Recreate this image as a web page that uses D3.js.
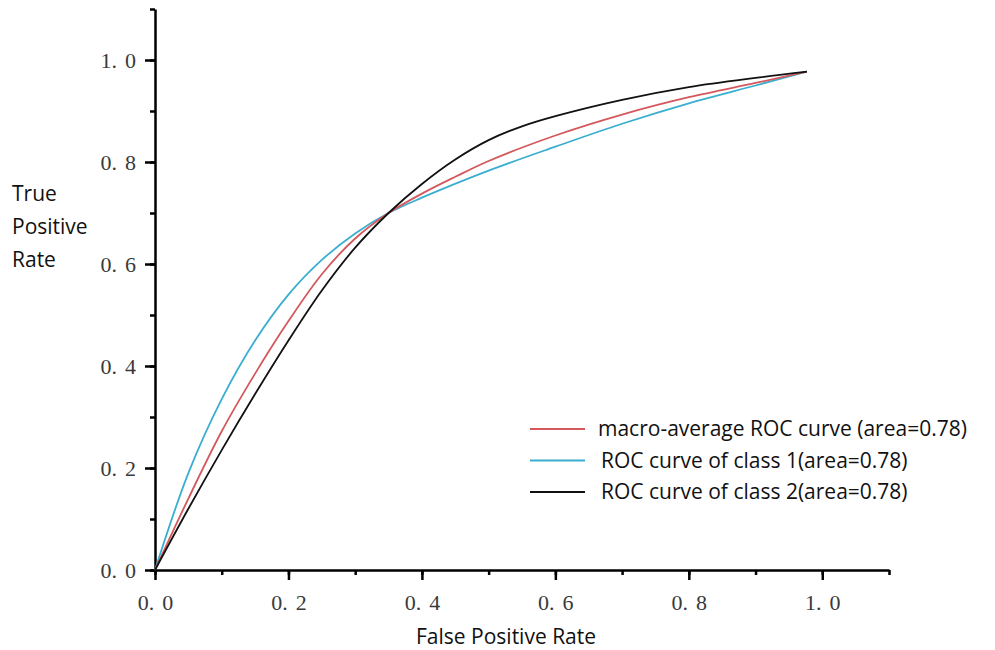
<!DOCTYPE html>
<html>
<head>
<meta charset="utf-8">
<script src="https://cdn.jsdelivr.net/npm/d3@7/dist/d3.min.js"></script>
<style>
  body { margin: 0; background: #fff; }
  svg { display: block; }
  .tick-lab { font-family: "Liberation Serif", "DejaVu Serif", serif; font-size: 22px; fill: #3a3a3a; }
  .title { font-family: "Open Sans", "Noto Sans", sans-serif; font-size: 21px; fill: #111; }
</style>
</head>
<body>
<div id="chart"></div>
<script>
// ROC curve points: [false positive rate, true positive rate]
var macroAvg = [
  [0, 0], [0.05, 0.14], [0.1, 0.272], [0.15, 0.385], [0.2, 0.488], [0.25, 0.58],
  [0.3, 0.65], [0.35, 0.7], [0.4, 0.738], [0.45, 0.771], [0.5, 0.802], [0.6, 0.852],
  [0.7, 0.893], [0.8, 0.927], [0.9, 0.955], [0.977, 0.977]
];
var class1 = [
  [0, 0], [0.05, 0.19], [0.1, 0.335], [0.15, 0.45], [0.2, 0.54], [0.25, 0.608],
  [0.3, 0.66], [0.35, 0.7], [0.4, 0.73], [0.5, 0.783], [0.6, 0.83],
  [0.7, 0.875], [0.8, 0.915], [0.9, 0.95], [0.977, 0.977]
];
var class2 = [
  [0, 0], [0.05, 0.12], [0.1, 0.235], [0.15, 0.345], [0.2, 0.45], [0.25, 0.548],
  [0.3, 0.632], [0.35, 0.7], [0.4, 0.757], [0.45, 0.805], [0.5, 0.843], [0.55, 0.87],
  [0.6, 0.89], [0.7, 0.922], [0.8, 0.947], [0.9, 0.965], [0.977, 0.977]
];
var seriesNames = [
  "macro-average ROC curve (area=0.78)",
  "ROC curve of class 1(area=0.78)",
  "ROC curve of class 2(area=0.78)"
];
var seriesColors = ["#d4585c", "#3aaed0", "#111111"];
var majorTicks = [0, 0.2, 0.4, 0.6, 0.8, 1.0];
var minorTicks = [0, 0.1, 0.2, 0.3, 0.4, 0.5, 0.6, 0.7, 0.8, 0.9, 1.0, 1.1];

(function() {
    var width = 995, height = 650;
    var svg = d3.select("#chart").append("svg")
        .attr("width", width)
        .attr("height", height);

    var x = d3.scaleLinear().domain([0, 1.1]).range([155, 889]);
    var y = d3.scaleLinear().domain([0, 1.1]).range([570, 9]);

    // put a gap after the decimal point like the original labels
    function splitLabels(sel) {
        sel.selectAll(".tick text").each(function(d) {
            var parts = d3.format(".1f")(d).split(".");
            var t = d3.select(this).text(null).attr("class", "tick-lab");
            t.append("tspan").text(parts[0] + ".");
            t.append("tspan").attr("dx", 8).text(parts[1]);
        });
    }

    // minor ticks first
    svg.append("g")
        .attr("transform", "translate(0,570)")
        .call(d3.axisBottom(x).tickValues(minorTicks).tickSize(5).tickFormat(""))
        .call(function(g) { g.select(".domain").remove(); });
    svg.append("g")
        .attr("transform", "translate(155,0)")
        .call(d3.axisLeft(y).tickValues(minorTicks).tickSize(5).tickFormat(""))
        .call(function(g) { g.select(".domain").remove(); });

    // major ticks + axis lines
    svg.append("g")
        .attr("transform", "translate(0,570)")
        .call(d3.axisBottom(x).tickValues(majorTicks).tickSize(10).tickSizeOuter(0).tickPadding(14))
        .call(splitLabels);
    svg.append("g")
        .attr("transform", "translate(155,0)")
        .call(d3.axisLeft(y).tickValues(majorTicks).tickSize(10).tickSizeOuter(0).tickPadding(9))
        .call(splitLabels);

    svg.selectAll(".domain").attr("stroke", "#000").attr("stroke-width", 2.5);
    svg.selectAll(".tick line").attr("stroke", "#000").attr("stroke-width", 2.5);
    svg.selectAll("g").attr("font-family", null).attr("font-size", null);

    // curves
    var line = d3.line()
        .x(function(d) { return x(d[0]); })
        .y(function(d) { return y(d[1]); })
        .curve(d3.curveCatmullRom.alpha(0.5));

    var allSeries = [macroAvg, class1, class2];
    [1, 0, 2].forEach(function(i) {
        svg.append("path")
            .datum(allSeries[i])
            .attr("fill", "none")
            .attr("stroke", seriesColors[i])
            .attr("stroke-width", 1.8)
            .attr("d", line);
    });

    // axis titles
    ["True", "Positive", "Rate"].forEach(function(w, i) {
        svg.append("text")
            .attr("class", "title")
            .attr("x", 12)
            .attr("y", 201 + i * 33)
            .text(w);
    });
    svg.append("text")
        .attr("class", "title")
        .attr("x", 416)
        .attr("y", 644)
        .text("False Positive Rate");

    // legend
    var legend = svg.append("g").attr("transform", "translate(530,429)");
    seriesNames.forEach(function(name, i) {
        var row = legend.append("g").attr("transform", "translate(0," + (i * 31.5) + ")");
        row.append("line")
            .attr("x1", 0).attr("x2", 55)
            .attr("stroke", seriesColors[i])
            .attr("stroke-width", 1.8);
        row.append("text")
            .attr("class", "title")
            .attr("x", i === 0 ? 68 : 71)
            .attr("y", 7)
            .text(name);
    });
})();
</script>
</body>
</html>
